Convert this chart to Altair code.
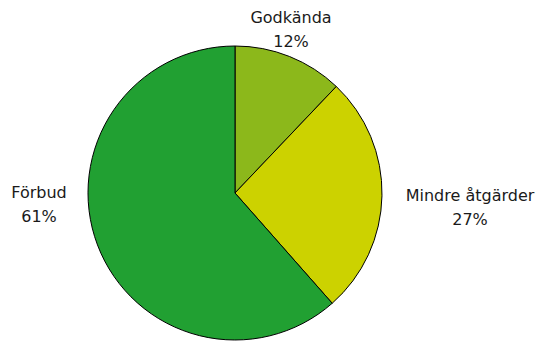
import altair as alt
import pandas as pd

categories = ["Godkända", "Mindre åtgärder", "Förbud"]
values = [12.1, 26.4, 61.5]          # slice sizes as drawn
label_pct = ["12%", "27%", "61%"]    # printed labels
colors = ["#8cb81b", "#ccd200", "#21a032"]
order = [0, 1, 2]

df = pd.DataFrame({
    "cat": categories,
    "val": values,
    "ord": order,
    "label": [f"{c}\n{p}" for c, p in zip(categories, label_pct)],
})

cx, cy, r = 227, 185, 147

pie = alt.Chart(df).mark_arc(stroke="black", strokeWidth=1).encode(
    theta=alt.Theta("val:Q", stack=True),
    order=alt.Order("ord:Q"),
    color=alt.Color("cat:N", scale=alt.Scale(domain=categories, range=colors), legend=None),
    x=alt.value(cx),
    y=alt.value(cy),
    radius=alt.value(r),
)

label_pos = {
    "Godkända": (283, 10),
    "Mindre åtgärder": (462, 188),
    "Förbud": (31, 185),
}

layers = [pie]
for c in categories:
    px, py = label_pos[c]
    layers.append(
        alt.Chart(df).transform_filter(alt.datum.cat == c).mark_text(
            font="DejaVu Sans", fontSize=16, color="#1a1a1a", align="center",
            baseline="middle", lineBreak="\n", lineHeight=24,
        ).encode(text="label:N", x=alt.value(px), y=alt.value(py))
    )

chart = alt.layer(*layers).properties(
    width=530, height=334, padding=0,
    autosize=alt.AutoSizeParams(type="none"),
).configure_view(stroke=None)

chart.save("out.html", embed_options={"renderer": "svg", "actions": False})
